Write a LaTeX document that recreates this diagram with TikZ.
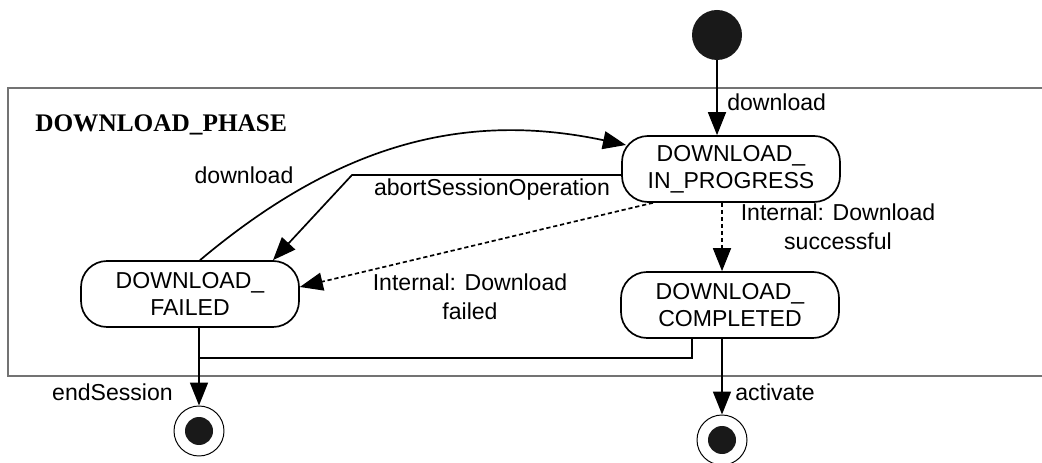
\documentclass[tikz,border=0pt]{standalone}
\usepackage{fontspec}
\setmainfont{Liberation Sans}
\newfontfamily\phasefont{Liberation Serif}
\usetikzlibrary{arrows.meta,calc}

\begin{document}
\begin{tikzpicture}[
    state/.style={draw,line width=1.2pt,rounded corners=0.65cm,minimum width=5.45cm,minimum height=1.65cm,align=center,inner sep=0pt,font=\fontsize{16.4}{19.5}\selectfont},
    lbl/.style={inner sep=0pt,align=center,font=\fontsize{16.4}{20.5}\selectfont},
    trans/.style={line width=1.2pt,-{Triangle[length=0.575cm,width=0.45cm]}},
    final/.style={circle,draw,line width=0.7pt,minimum size=1.25cm,inner sep=0pt},
  ]
    \useasboundingbox (0,0) rectangle (26.05,11.55);
    \fill[white] (0,0) rectangle (26.05,11.55);
    % phase frame, open to the right
    \draw[black!55,line width=1.1pt] (26.1,9.35) -- (0.2,9.35) -- (0.2,2.15) -- (26.1,2.15);
    \node[anchor=west,inner sep=0pt,font=\phasefont\bfseries\fontsize{18}{20}\selectfont] (phase) at (0.875,8.425) {DOWNLOAD\_PHASE};
    % states
    \node[circle,fill=black!90,minimum size=1.25cm,inner sep=0pt] (init) at (17.925,10.675) {};
    \node[state] (inprog) at (18.275,7.325) {DOWNLOAD\_\\IN\_PROGRESS};
    \node[state] (faild) at (4.75,4.2) {DOWNLOAD\_\\FAILED};
    \node[state] (compl) at (18.25,3.925) {DOWNLOAD\_\\COMPLETED};
    \node[final] (endl) at (4.975,0.775) {};
    \fill[black!90] (endl) circle (0.35);
    \node[final] (endr) at (18.05,0.55) {};
    \fill[black!90] (endr) circle (0.35);
    % transitions
    \draw[trans] (init) -- (init |- inprog.north);
    \node[lbl,anchor=west] (dltop) at (18.175,9.0) {download};
    \draw[trans] ($(faild.north)+(0.25,0)$) to[out=40,in=168] ($(inprog.west)+(0.12,0.6)$);
    \node[lbl] (dlback) at (6.1,7.175) {download};
    \coordinate (abortbend) at (8.8,7.175);
    \draw[trans] (inprog.west |- abortbend) -- (abortbend) -- ($(faild.north)+(2.075,0)$);
    \node[lbl] (abortlbl) at (12.3,6.8) {abortSessionOperation};
    \draw[trans,dash pattern=on 3pt off 2pt] ($(inprog.south)+(-1.95,0)$) -- ($(faild.east)+(0,0.175)$);
    \node[lbl] (faillbl) at (11.75,4.125) {Internal: Download\\failed};
    \draw[trans,dash pattern=on 3pt off 2pt] (inprog.south -| endr) -- (compl.north -| endr);
    \node[lbl] (oklbl) at (20.95,5.89) {Internal: Download\\successful};
    \coordinate (joinpt) at (4.975,2.6);
    \draw[trans] (faild.south -| endl) -- (endl);
    \draw[line width=1.2pt] ($(compl.south)+(-0.95,0)$) |- (joinpt);
    \node[lbl,anchor=east] (endlbl) at (4.325,1.75) {endSession};
    \draw[trans] (compl.south -| endr) -- (endr);
    \node[lbl,anchor=west] (actlbl) at (18.375,1.75) {activate};
  \end{tikzpicture}
\end{document}
